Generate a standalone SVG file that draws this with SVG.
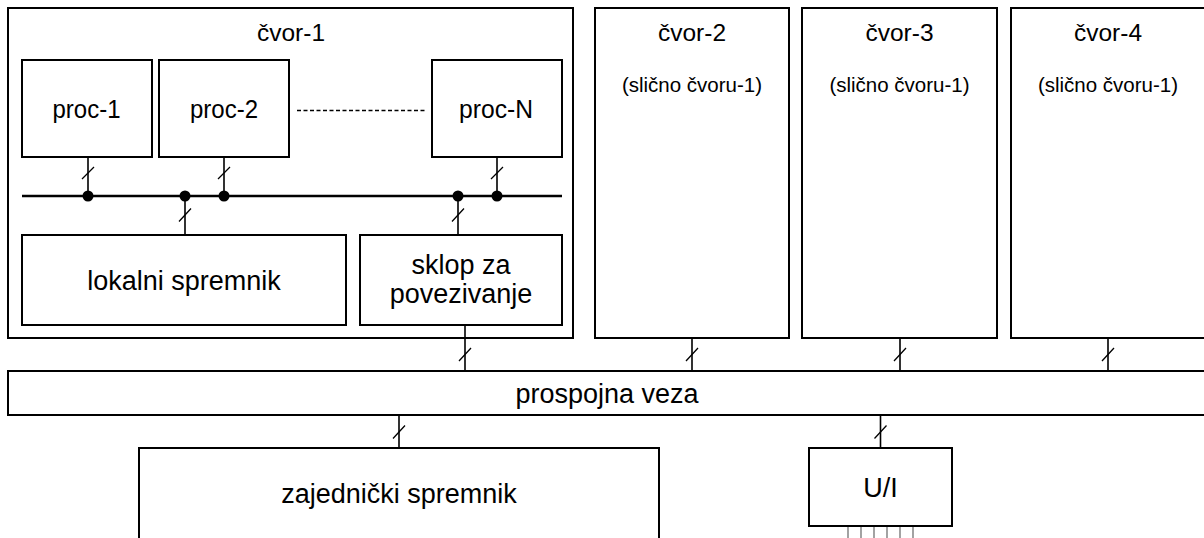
<svg xmlns="http://www.w3.org/2000/svg" width="1204" height="538" viewBox="0 0 1204 538">
<style>
.box{fill:#fff;stroke:#000;stroke-width:2}
.ln{fill:none;stroke:#000;stroke-width:1.6}
.bus{fill:none;stroke:#000;stroke-width:2.4}
.tick{fill:none;stroke:#000;stroke-width:1.3}
.dot{fill:#000}
.io{fill:none;stroke:#666;stroke-width:1.2}
text{font-family:"Liberation Sans",Arial,Helvetica,sans-serif;fill:#000;text-anchor:middle}
.big{font-size:27px}
.mid{font-size:24.5px}
.proc{font-size:26px}
.sm{font-size:20.5px}
</style>
<rect width="1204" height="538" fill="#fff"/>
<g id="cvor-1">
<rect class="box" x="8" y="8" width="565" height="330"/>
<text class="mid" x="291" y="41">čvor-1</text>
</g>
<g id="proc-1"><rect class="box" x="22" y="60" width="130" height="97"/><text class="proc" x="86.5" y="118" textLength="68" lengthAdjust="spacingAndGlyphs">proc-1</text></g>
<g id="proc-2"><rect class="box" x="159" y="60" width="130" height="97"/><text class="proc" x="224" y="118" textLength="68" lengthAdjust="spacingAndGlyphs">proc-2</text></g>
<g id="proc-N"><rect class="box" x="432" y="60" width="130" height="97"/><text class="proc" x="496" y="118" textLength="74" lengthAdjust="spacingAndGlyphs">proc-N</text></g>
<g id="lokalni"><rect class="box" x="22" y="235" width="324" height="90"/><text class="big" x="184" y="290">lokalni spremnik</text></g>
<g id="sklop"><rect class="box" x="360" y="235" width="202" height="90"/><text class="big" x="461" y="274">sklop za</text><text class="big" x="461" y="303">povezivanje</text></g>
<g id="cvor-2"><rect class="box" x="595" y="8" width="194" height="330"/><text class="mid" x="692" y="41">čvor-2</text><text class="sm" x="692" y="92">(slično čvoru-1)</text></g>
<g id="cvor-3"><rect class="box" x="802" y="8" width="195" height="330"/><text class="mid" x="899.5" y="41">čvor-3</text><text class="sm" x="899.5" y="92">(slično čvoru-1)</text></g>
<g id="cvor-4"><rect class="box" x="1011" y="8" width="196" height="330"/><text class="mid" x="1108" y="41">čvor-4</text><text class="sm" x="1108" y="92">(slično čvoru-1)</text></g>
<g id="prospojna"><rect class="box" x="8" y="371" width="1200" height="44"/><text class="big" x="607" y="403">prospojna veza</text></g>
<g id="zajednicki"><rect class="box" x="139" y="448" width="520" height="100"/><text class="big" x="399" y="503">zajednički spremnik</text></g>
<g id="ui"><rect class="box" x="809" y="448" width="143" height="78"/><text class="big" x="880.5" y="497">U/I</text></g>
<g id="connectors">
<line class="bus" x1="22" y1="196" x2="562" y2="196"/>
<line x1="297" y1="110.5" x2="425" y2="110.5" stroke="#000" stroke-width="1.5" stroke-dasharray="4 2.5"/>
<path class="ln" d="M88 157V196M224 157V196M497 157V196M185 196V235M458 196V235"/>
<circle class="dot" cx="88" cy="196" r="5.5"/>
<circle class="dot" cx="185" cy="196" r="5.5"/>
<circle class="dot" cx="224" cy="196" r="5.5"/>
<circle class="dot" cx="458" cy="196" r="5.5"/>
<circle class="dot" cx="497" cy="196" r="5.5"/>
<path class="tick" d="M82 179L94 167M218 179L230 167M491 179L503 167M179 221.5L191 208.5M452 221.5L464 208.5"/>
<path class="ln" d="M465 325V371M692 338V371M900 338V371M1108 338V371M399 415V448M880.5 415V448"/>
<path class="tick" d="M459 361L471 348M686 361L698 348M894 361L906 348M1102 361L1114 348M393 438.5L405 425.5M874.5 438.5L886.5 425.5"/>
<path class="io" d="M848 527V538M861 527V538M874 527V538M887 527V538M900 527V538M913 527V538"/>
</g>
</svg>
